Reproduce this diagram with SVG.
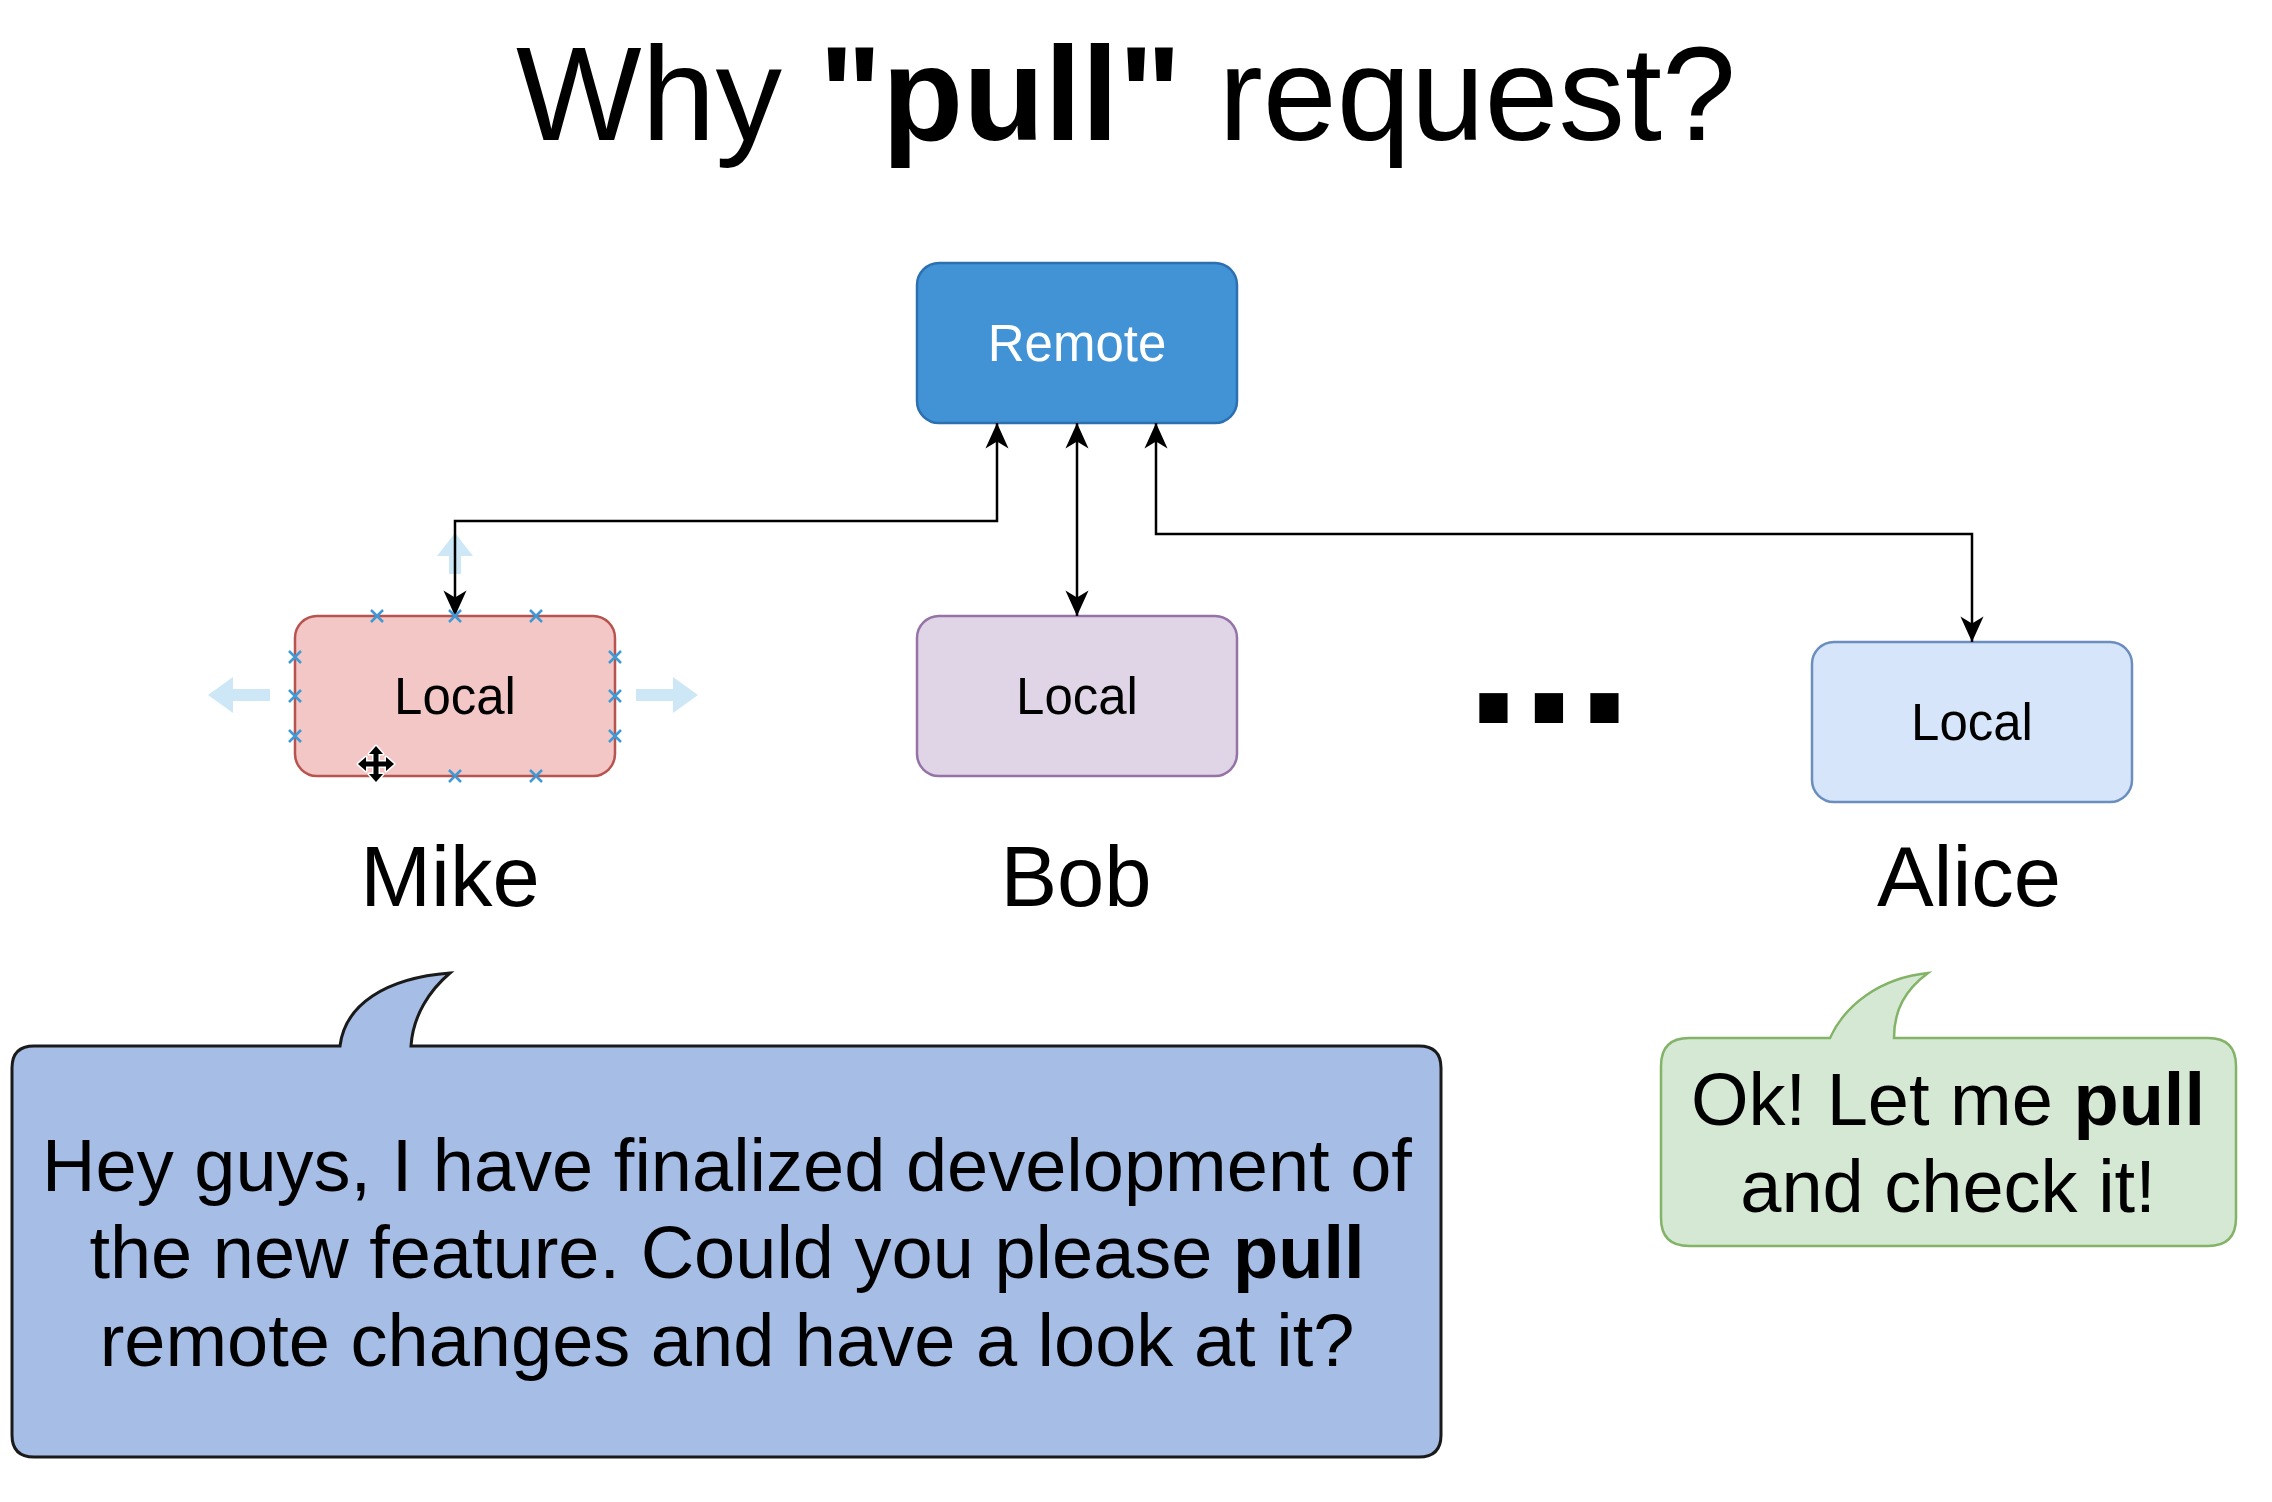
<svg xmlns="http://www.w3.org/2000/svg" width="2272" height="1502" viewBox="0 0 2272 1502">
<defs>
<style>
text{font-family:"Liberation Sans",Arial,Helvetica,sans-serif;fill:#000}
.b{font-weight:bold}
.box{stroke-width:2.5}
.lbl{font-size:51px;text-anchor:middle}
.name{font-size:85px;text-anchor:middle}
.say{font-size:74px;text-anchor:middle}
.conn{fill:none;stroke:#000;stroke-width:2.5}
.hint{fill:#cde7f7}
.xm{stroke:#3d9ad6;stroke-width:2.5;fill:none}
</style>
<marker id="ah" markerUnits="userSpaceOnUse" markerWidth="30" markerHeight="30" viewBox="-24 -12 26 24" refX="0" refY="0" orient="auto-start-reverse">
<path d="M0,0 L-22,-10 L-16,0 L-22,10 Z" fill="#000"/>
</marker>
</defs>
<rect width="2272" height="1502" fill="#fff"/>

<g id="title">
<text x="1126" y="140" style="font-size:133px;text-anchor:middle">Why <tspan class="b">"pull"</tspan> request?</text>
</g>

<g id="remote">
<rect x="917" y="263" width="320" height="160" rx="22" fill="#4193d6" stroke="#2c70b0" class="box"/>
<text x="1077" y="361" class="lbl" style="fill:#fff">Remote</text>
</g>

<g id="mike">
<rect x="295" y="616" width="320" height="160" rx="22" fill="#f3c7c6" stroke="#b85450" class="box"/>
<text x="455" y="714" class="lbl">Local</text>
<text x="450" y="906" class="name">Mike</text>
</g>

<g id="bob">
<rect x="917" y="616" width="320" height="160" rx="22" fill="#e0d4e7" stroke="#9673a6" class="box"/>
<text x="1077" y="714" class="lbl">Local</text>
<text x="1076" y="906" class="name">Bob</text>
</g>

<g id="ellipsis">
<text x="1549" y="723" class="b" style="font-size:200px;text-anchor:middle">...</text>
</g>

<g id="alice">
<rect x="1812" y="642" width="320" height="160" rx="22" fill="#d6e5f9" stroke="#6c8ebf" class="box"/>
<text x="1972" y="740" class="lbl">Local</text>
<text x="1969" y="906" class="name">Alice</text>
</g>

<g id="selection-hints">
<path class="hint" d="M208,695 L233,677 L233,689 L270,689 L270,701 L233,701 L233,713 Z"/>
<path class="hint" d="M698,695 L673,677 L673,689 L636,689 L636,701 L673,701 L673,713 Z"/>
<path class="hint" d="M455,533 L473,556 L461,556 L461,574 L449,574 L449,556 L437,556 Z"/>
</g>

<g id="connectors">
<path class="conn" d="M997,423 L997,521 L455,521 L455,616" marker-start="url(#ah)" marker-end="url(#ah)"/>
<path class="conn" d="M1077,423 L1077,616" marker-start="url(#ah)" marker-end="url(#ah)"/>
<path class="conn" d="M1156,423 L1156,534 L1972,534 L1972,642" marker-start="url(#ah)" marker-end="url(#ah)"/>
</g>

<g id="connection-points">
<path class="xm" d="M371,610 l12,12 m0,-12 l-12,12 M449,610 l12,12 m0,-12 l-12,12 M530,610 l12,12 m0,-12 l-12,12 M449,770 l12,12 m0,-12 l-12,12 M530,770 l12,12 m0,-12 l-12,12 M289,651 l12,12 m0,-12 l-12,12 M289,690 l12,12 m0,-12 l-12,12 M289,730 l12,12 m0,-12 l-12,12 M609,651 l12,12 m0,-12 l-12,12 M609,690 l12,12 m0,-12 l-12,12 M609,730 l12,12 m0,-12 l-12,12"/>
<path transform="translate(376,764)" d="M0,-18 L7,-10 L2.5,-10 L2.5,-2.5 L10,-2.5 L10,-7 L18,0 L10,7 L10,2.5 L2.5,2.5 L2.5,10 L7,10 L0,18 L-7,10 L-2.5,10 L-2.5,2.5 L-10,2.5 L-10,7 L-18,0 L-10,-7 L-10,-2.5 L-2.5,-2.5 L-2.5,-10 L-7,-10 Z" fill="#000" stroke="#fff" stroke-width="3" stroke-linejoin="round" paint-order="stroke"/>
</g>

<g id="mike-bubble">
<path d="M34,1046 L340,1046 C345,1005 385,978 450,973 C430,990 413,1015 411,1046 L1419,1046 Q1441,1046 1441,1068 L1441,1435 Q1441,1457 1419,1457 L34,1457 Q12,1457 12,1435 L12,1068 Q12,1046 34,1046 Z" fill="#a6bde5" stroke="#1a1a1a" stroke-width="3"/>
<text x="727" y="1191" class="say">Hey guys, I have finalized development of</text>
<text x="727" y="1278" class="say">the new feature. Could you please <tspan class="b">pull</tspan></text>
<text x="727" y="1366" class="say">remote changes and have a look at it?</text>
</g>

<g id="alice-bubble">
<path d="M1689,1038 L1830,1038 C1845,1005 1880,978 1928,973 C1905,990 1894,1010 1894,1038 L2208,1038 Q2236,1038 2236,1066 L2236,1218 Q2236,1246 2208,1246 L1689,1246 Q1661,1246 1661,1218 L1661,1066 Q1661,1038 1689,1038 Z" fill="#d5e8d4" stroke="#82b366" stroke-width="2.5"/>
<text x="1948" y="1125" class="say">Ok! Let me <tspan class="b">pull</tspan></text>
<text x="1948" y="1212" class="say">and check it!</text>
</g>
</svg>
